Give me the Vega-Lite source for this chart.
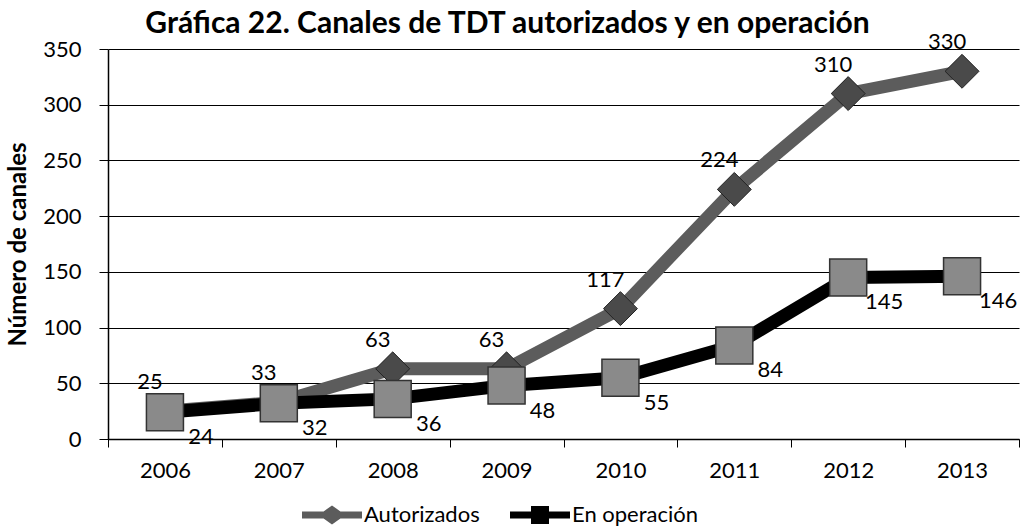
{
  "$schema": "https://vega.github.io/schema/vega-lite/v6.json",
  "width": 911,
  "height": 390,
  "autosize": "none",
  "padding": {"left": 108, "top": 49, "right": 9, "bottom": 90},
  "background": "white",
  "config": {"font": "Lato", "view": {"stroke": null}},
  "title": {
    "text": "Gráfica 22. Canales de TDT autorizados y en operación",
    "fontSize": 30,
    "fontWeight": "bold",
    "color": "black",
    "anchor": "middle",
    "frame": "group",
    "dx": -56,
    "offset": -8
  },
  "data": {
    "values": [
      {"year": "2006", "series": "Autorizados", "value": 25},
      {"year": "2007", "series": "Autorizados", "value": 33},
      {"year": "2008", "series": "Autorizados", "value": 63},
      {"year": "2009", "series": "Autorizados", "value": 63},
      {"year": "2010", "series": "Autorizados", "value": 117},
      {"year": "2011", "series": "Autorizados", "value": 224},
      {"year": "2012", "series": "Autorizados", "value": 310},
      {"year": "2013", "series": "Autorizados", "value": 330},
      {"year": "2006", "series": "En operación", "value": 24},
      {"year": "2007", "series": "En operación", "value": 32},
      {"year": "2008", "series": "En operación", "value": 36},
      {"year": "2009", "series": "En operación", "value": 48},
      {"year": "2010", "series": "En operación", "value": 55},
      {"year": "2011", "series": "En operación", "value": 84},
      {"year": "2012", "series": "En operación", "value": 145},
      {"year": "2013", "series": "En operación", "value": 146}
    ]
  },
  "encoding": {
    "x": {
      "field": "year",
      "type": "ordinal",
      "scale": {"type": "band", "paddingInner": 0, "paddingOuter": 0},
      "axis": {
        "title": null,
        "labelAngle": 0,
        "labelFontSize": 22,
        "labelColor": "black",
        "labelPadding": 13,
        "tickSize": 8,
        "tickBand": "extent",
        "tickColor": "black",
        "domainColor": "black",
        "domainWidth": 1.5,
        "grid": false
      }
    },
    "y": {
      "field": "value",
      "type": "quantitative",
      "scale": {"domain": [0, 350], "nice": false},
      "axis": {
        "title": "Número de canales",
        "titleFontSize": 24,
        "titleFontWeight": "bold",
        "titleColor": "black",
        "titlePadding": 12,
        "values": [0, 50, 100, 150, 200, 250, 300, 350],
        "labelFontSize": 22,
        "labelColor": "black",
        "labelPadding": 18,
        "tickSize": 9,
        "tickColor": "black",
        "domainColor": "black",
        "domainWidth": 1.5,
        "grid": true,
        "gridColor": "black",
        "gridWidth": 1.2,
        "gridOpacity": 1
      }
    }
  },
  "layer": [
    {
      "transform": [{"filter": "datum.series === 'Autorizados'"}],
      "mark": {"type": "line", "strokeWidth": 13},
      "encoding": {
        "color": {
          "field": "series",
          "type": "nominal",
          "scale": {"domain": ["Autorizados", "En operación"], "range": ["#5c5c5c", "#000000"]},
          "legend": {
            "orient": "none",
            "legendX": 194,
            "legendY": 436,
            "padding": 0,
            "direction": "horizontal",
            "title": null,
            "labelFontSize": 22,
            "labelColor": "black",
            "symbolSize": 3600,
            "labelOffset": 2,
            "columnPadding": 30,
            "symbolType": "M-1,-0.12H1V0.12H-1Z",
            "encode": {
              "symbols": {
                "update": {
                  "shape": {"signal": "datum.value === 'Autorizados' ? 'M-1,-0.12H-0.28L0,-0.32L0.28,-0.12H1V0.12H0.28L0,0.32L-0.28,0.12H-1Z' : 'M-1,-0.12H-0.3V-0.3H0.3V-0.12H1V0.12H0.3V0.3H-0.3V0.12H-1Z'"},
                  "fill": {"signal": "datum.value === 'Autorizados' ? '#5c5c5c' : '#000000'"},
                  "stroke": {"value": "transparent"},
                  "strokeWidth": {"value": 0}
                }
              }
            }
          }
        }
      }
    },
    {
      "transform": [{"filter": "datum.series === 'Autorizados'"}],
      "mark": {"type": "point", "shape": "diamond", "size": 1150, "filled": true, "fill": "#4a4a4a", "stroke": "#222222", "strokeWidth": 1, "opacity": 1}
    },
    {
      "transform": [{"filter": "datum.series === 'En operación'"}],
      "mark": {"type": "line", "strokeWidth": 13},
      "encoding": {
        "color": {"field": "series", "type": "nominal"}
      }
    },
    {
      "transform": [{"filter": "datum.series === 'En operación'"}],
      "mark": {"type": "point", "shape": "square", "size": 1370, "filled": true, "fill": "#8a8a8a", "stroke": "#333333", "strokeWidth": 1.5, "opacity": 1}
    },
    {
      "transform": [{"filter": "datum.series === 'Autorizados'"}],
      "mark": {"type": "text", "fontSize": 22, "color": "black", "dx": -15, "dy": -29},
      "encoding": {"text": {"field": "value", "type": "quantitative"}}
    },
    {
      "transform": [{"filter": "datum.series === 'En operación'"}],
      "mark": {"type": "text", "fontSize": 22, "color": "black", "dx": 36, "dy": 25},
      "encoding": {"text": {"field": "value", "type": "quantitative"}}
    }
  ]
}
